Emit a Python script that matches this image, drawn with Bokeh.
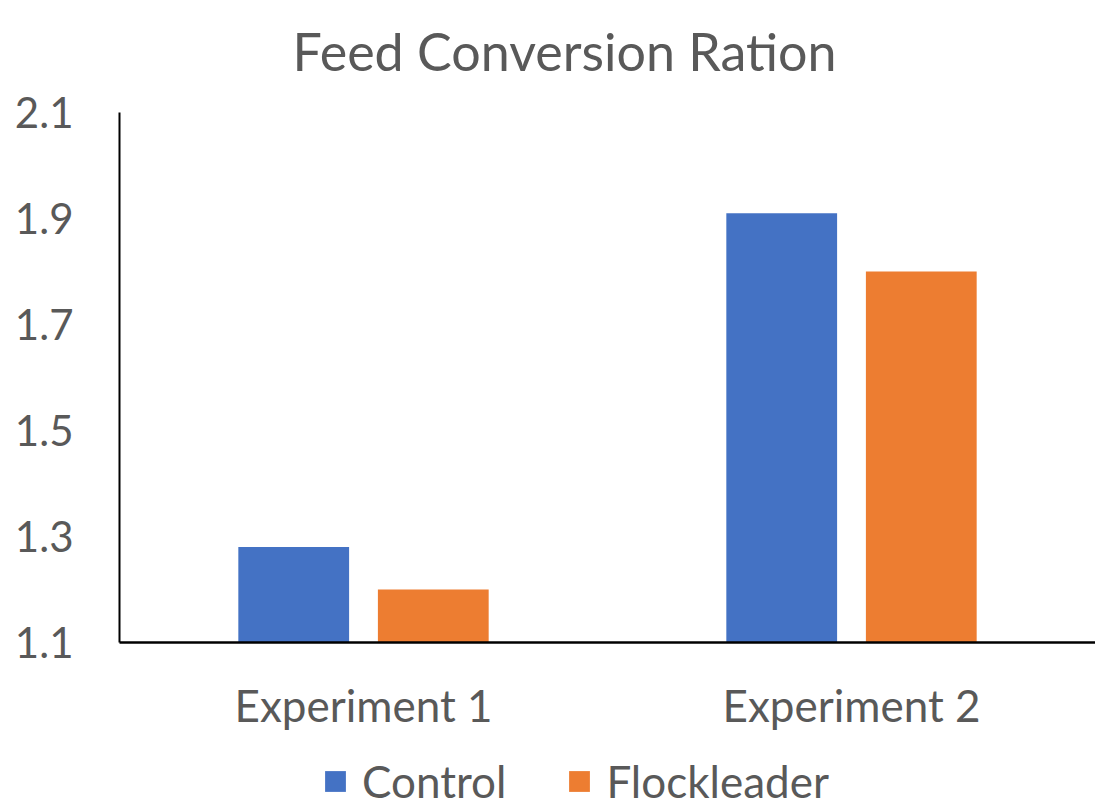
from bokeh.plotting import figure
from bokeh.models import FactorRange, Range1d, Legend, LegendItem, ColumnDataSource, FixedTicker, Label
from bokeh.transform import dodge
from bokeh.layouts import column
from bokeh.embed import file_html
from bokeh.resources import INLINE

categories = ["Experiment 1", "Experiment 2"]
series = ["Control", "Flockleader"]
control = [1.28, 1.91]
flockleader = [1.20, 1.80]
y_ticks = [1.1, 1.3, 1.5, 1.7, 1.9, 2.1]
colors = ["#4472C4", "#ED7D31"]
title_text = "Feed Conversion Ration"

FONT = "Lato"
TXT = "#595959"
Y_MIN, Y_MAX = 1.1, 2.1
Y_TOP = Y_MAX + 112 / 530  # head-room for the title inside the frame

src = ColumnDataSource(dict(cat=categories, control=control, flock=flockleader))

p = figure(x_range=FactorRange(*categories, range_padding=0), y_range=Range1d(Y_MIN, Y_TOP),
           width=1095, height=740, output_backend="svg", toolbar_location=None,
           min_border_left=119, min_border_right=0, min_border_top=0, min_border_bottom=98)
p.outline_line_color = None
p.grid.visible = False
p.background_fill_color = "white"

r1 = p.vbar(x=dodge("cat", -0.143, range=p.x_range), top="control", bottom=Y_MIN, width=0.227,
            source=src, fill_color=colors[0], line_color=None)
r2 = p.vbar(x=dodge("cat", 0.143, range=p.x_range), top="flock", bottom=Y_MIN, width=0.227,
            source=src, fill_color=colors[1], line_color=None)

p.yaxis.ticker = FixedTicker(ticks=y_ticks)
p.yaxis.bounds = (Y_MIN, Y_MAX)
p.yaxis.major_tick_line_color = None
p.yaxis.minor_tick_line_color = None
p.yaxis.axis_line_color = "black"
p.yaxis.axis_line_width = 2
p.yaxis.major_label_text_font = FONT
p.yaxis.major_label_text_font_size = "42px"
p.yaxis.major_label_text_color = TXT
p.yaxis.major_label_standoff = 40

p.xaxis.major_tick_line_color = None
p.xaxis.minor_tick_line_color = None
p.xaxis.axis_line_color = "black"
p.xaxis.axis_line_width = 2.5
p.xaxis.major_label_text_font = FONT
p.xaxis.major_label_text_font_size = "44px"
p.xaxis.major_label_text_color = TXT
p.xaxis.major_label_standoff = 30

title = Label(x=0.912, y=Y_MIN + (642 - 50) / 530, text=title_text, text_align="center",
              text_baseline="alphabetic", text_font=FONT, text_font_size="52px", text_color=TXT)
p.add_layout(title)

# legend strip (separate figure so the legend is not clipped)
p2 = figure(width=1095, height=62, output_backend="svg", toolbar_location=None,
            x_range=Range1d(0, 1), y_range=Range1d(0, 1),
            x_axis_location=None, y_axis_location=None,
            min_border_left=0, min_border_right=0, min_border_top=0, min_border_bottom=0)
p2.outline_line_color = None
p2.grid.visible = False
# proxy glyphs placed outside the visible range; they only supply the legend swatches
proxy = ColumnDataSource(dict(x=[5.0], top=[5.0]))
l1 = p2.vbar(x="x", top="top", bottom=4.0, width=0.1, source=proxy, fill_color=colors[0], line_color=None)
l2 = p2.vbar(x="x", top="top", bottom=4.0, width=0.1, source=proxy, fill_color=colors[1], line_color=None)

legend = Legend(items=[LegendItem(label=series[0], renderers=[l1]),
                       LegendItem(label=series[1], renderers=[l2])],
                orientation="horizontal", location=(203, -5),
                label_text_font=FONT, label_text_font_size="44px", label_text_color=TXT,
                glyph_width=26, glyph_height=26, spacing=60, label_standoff=14,
                border_line_color=None, background_fill_alpha=0, margin=0, padding=0)
p2.add_layout(legend, "center")

layout = column(p, p2, spacing=0)
open("out.html", "w").write(file_html(layout, INLINE))
